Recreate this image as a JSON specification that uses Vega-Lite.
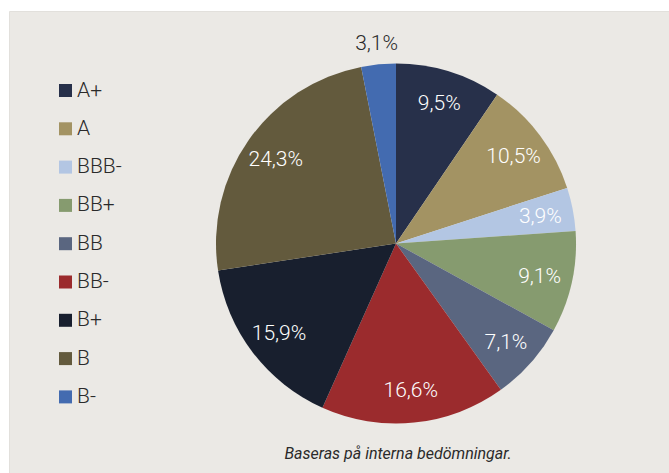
{
  "$schema": "https://vega.github.io/schema/vega-lite/v6.json",
  "width": 660,
  "height": 462,
  "autosize": {"type": "none"},
  "padding": {"left": 9, "top": 11, "right": 0, "bottom": 0},
  "background": "#ffffff",
  "view": {"fill": "#ebe9e5", "stroke": "#e2e0dc", "strokeWidth": 1},
  "config": {
    "font": "Roboto"
  },
  "title": {
    "text": "Baseras på interna bedömningar.",
    "orient": "bottom",
    "anchor": "middle",
    "offset": -27,
    "dx": 59,
    "fontSize": 16,
    "fontStyle": "italic",
    "fontWeight": 400,
    "font": "Roboto",
    "color": "#2a2a2a"
  },
  "data": {
    "values": [
      {"rating": "A+", "value": 9.5, "label": "9,5%", "idx": 1},
      {"rating": "A", "value": 10.5, "label": "10,5%", "idx": 2},
      {"rating": "BBB-", "value": 3.9, "label": "3,9%", "idx": 3},
      {"rating": "BB+", "value": 9.1, "label": "9,1%", "idx": 4},
      {"rating": "BB", "value": 7.1, "label": "7,1%", "idx": 5},
      {"rating": "BB-", "value": 16.6, "label": "16,6%", "idx": 6},
      {"rating": "B+", "value": 15.9, "label": "15,9%", "idx": 7},
      {"rating": "B", "value": 24.3, "label": "24,3%", "idx": 8},
      {"rating": "B-", "value": 3.1, "label": "3,1%", "idx": 9}
    ]
  },
  "encoding": {
    "theta": {"field": "value", "type": "quantitative", "stack": true},
    "order": {"field": "idx", "type": "quantitative", "sort": "ascending"}
  },
  "layer": [
    {
      "mark": {"type": "arc", "outerRadius": 180, "x": {"expr": "width/2+57"}, "y": {"expr": "height/2+1.5"}},
      "encoding": {
        "color": {
          "field": "rating",
          "type": "nominal",
          "scale": {
            "domain": ["A+", "A", "BBB-", "BB+", "BB", "BB-", "B+", "B", "B-"],
            "range": ["#27304a", "#a39363", "#b3c6e3", "#869b6f", "#5a6680", "#9b2b2d", "#181f2e", "#635a3d", "#436bb0"]
          },
          "legend": {
            "title": null,
            "orient": "none",
            "legendX": 46,
            "legendY": 69,
            "padding": 0,
            "symbolType": "square",
            "symbolSize": 169,
            "symbolStrokeWidth": 0,
            "symbolOpacity": 1,
            "labelFontSize": 21,
            "labelFont": "Roboto",
            "labelFontWeight": 300,
            "labelColor": "#2a2a2a",
            "labelOffset": 1,
            "rowPadding": 16.3
          }
        }
      }
    },
    {
      "mark": {"type": "text", "radius": 147, "x": {"expr": "width/2+57"}, "y": {"expr": "height/2+3"}, "fontSize": 21, "fontWeight": 300, "font": "Roboto", "color": "#ffffff", "align": "center", "baseline": "middle"},
      "encoding": {
        "text": {"condition": {"test": "datum.rating !== 'B-'", "field": "label"}, "value": ""}
      }
    },
    {
      "mark": {"type": "text", "radius": 200, "x": {"expr": "width/2+57"}, "y": {"expr": "height/2+1.5"}, "fontSize": 21, "fontWeight": 300, "font": "Roboto", "color": "#2a2a2a", "align": "center", "baseline": "middle"},
      "encoding": {
        "text": {"condition": {"test": "datum.rating === 'B-'", "field": "label"}, "value": ""}
      }
    }
  ]
}
